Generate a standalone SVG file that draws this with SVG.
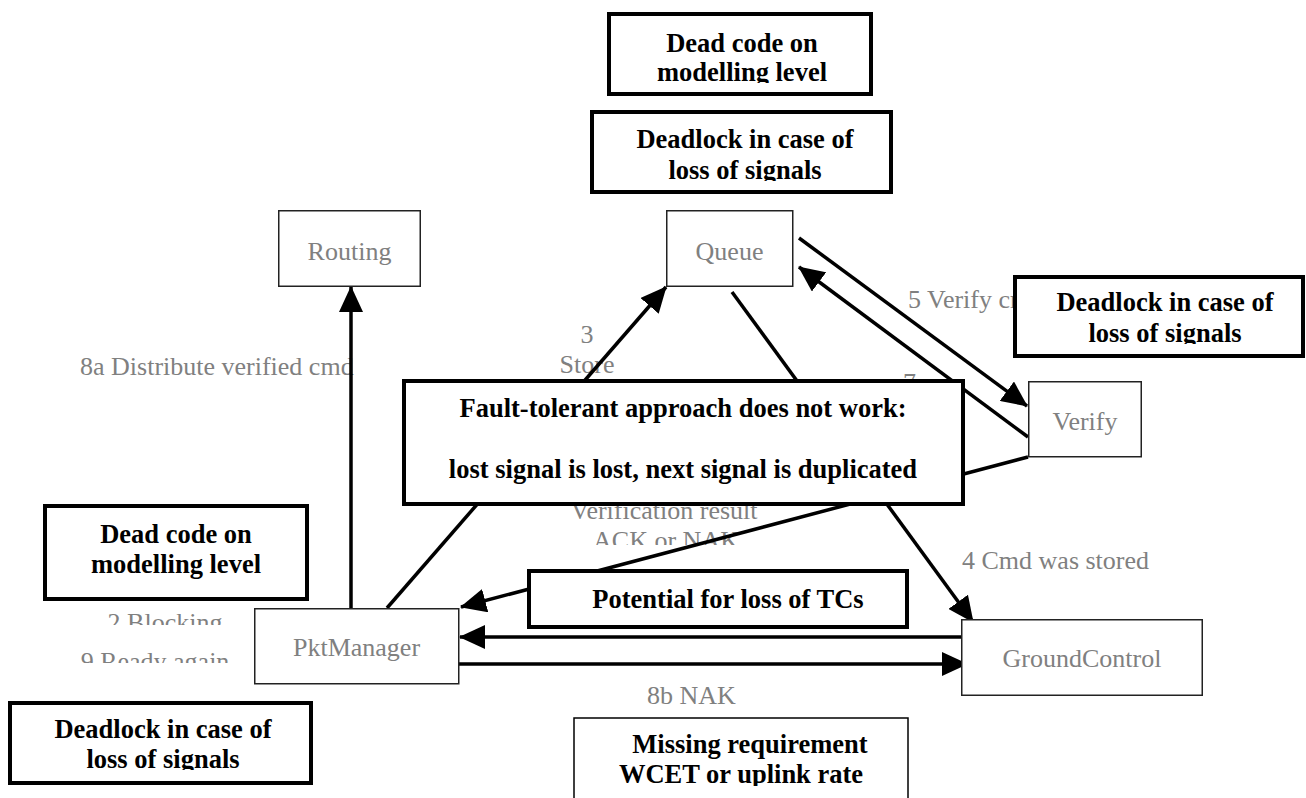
<svg xmlns="http://www.w3.org/2000/svg" width="1306" height="798" viewBox="0 0 1306 798">
<style>
.node{fill:#fff;stroke:#222;stroke-width:1.5}
.ntext{font-family:"Liberation Serif","Times New Roman",serif;font-size:26px;fill:#808080;text-anchor:middle}
.lbl{font-family:"Liberation Serif","Times New Roman",serif;font-size:26px;fill:#808080}
.note{fill:#fff;stroke:#000;stroke-width:4}
.thin{fill:#fff;stroke:#000;stroke-width:1.5}
.ntxt{font-family:"Liberation Serif","Times New Roman",serif;font-size:26.5px;font-weight:bold;fill:#000;text-anchor:middle}
.edge{fill:none;stroke:#000;stroke-width:3.5}
</style>
<defs>
<marker id="ah" markerUnits="userSpaceOnUse" markerWidth="26" markerHeight="24" refX="25" refY="12" orient="auto" viewBox="0 0 26 24">
<path d="M0,0 L26,12 L0,24 z" fill="#000"/>
</marker>
<clipPath id="c1"><rect x="0" y="0" width="1306" height="83"/></clipPath>
<clipPath id="c2"><rect x="0" y="0" width="1306" height="181"/></clipPath>
<clipPath id="c3"><rect x="0" y="0" width="1306" height="344"/></clipPath>
<clipPath id="c4"><rect x="0" y="0" width="1306" height="770"/></clipPath>
<clipPath id="c5"><rect x="0" y="0" width="1306" height="786"/></clipPath>
<clipPath id="c6"><rect x="0" y="0" width="1306" height="625"/></clipPath>
<clipPath id="c7"><rect x="0" y="0" width="1306" height="663"/></clipPath>
<clipPath id="c8"><rect x="0" y="0" width="1306" height="545"/></clipPath>
</defs>
<rect width="1306" height="798" fill="#fff"/>

<g id="labels">
<text class="lbl" x="80" y="375">8a Distribute verified cmd</text>
<text class="lbl" x="587" y="343" text-anchor="middle">3</text>
<text class="lbl" x="587" y="373" text-anchor="middle">Store</text>
<text class="lbl" x="908" y="308">5 Verify cmd</text>
<text class="lbl" x="903" y="391">7</text>
<text class="lbl" x="664" y="519" text-anchor="middle">Verification result</text>
<text class="lbl" x="666" y="549" text-anchor="middle" clip-path="url(#c8)">ACK or NAK</text>
<text class="lbl" x="962" y="569">4 Cmd was stored</text>
<text class="lbl" x="647" y="704">8b NAK</text>
<text class="lbl" x="165" y="631" text-anchor="middle" clip-path="url(#c6)">2 Blocking</text>
<text class="lbl" x="155" y="670" text-anchor="middle" clip-path="url(#c7)">9 Ready again</text>
</g>

<g id="connectors">
<line class="edge" x1="351" y1="608" x2="351" y2="287" marker-end="url(#ah)"/>
<line class="edge" x1="387" y1="608" x2="666" y2="287" marker-end="url(#ah)"/>
<line class="edge" x1="732" y1="292" x2="973" y2="622" marker-end="url(#ah)"/>
<line class="edge" x1="799" y1="238" x2="1027" y2="406" marker-end="url(#ah)"/>
<line class="edge" x1="1028" y1="437" x2="799" y2="267" marker-end="url(#ah)"/>
<line class="edge" x1="1028" y1="457" x2="461" y2="607" marker-end="url(#ah)"/>
<line class="edge" x1="968" y1="637" x2="460" y2="637" marker-end="url(#ah)"/>
<line class="edge" x1="459" y1="664" x2="967" y2="664" marker-end="url(#ah)"/>
</g>

<g id="routing"><rect class="node" x="278.75" y="210.75" width="141.5" height="75.5"/><text class="ntext" x="349.5" y="260">Routing</text></g>
<g id="queue"><rect class="node" x="666.75" y="210.75" width="126" height="75.5"/><text class="ntext" x="729.5" y="260">Queue</text></g>
<g id="verify"><rect class="node" x="1028.75" y="381.75" width="112.5" height="75"/><text class="ntext" x="1085" y="430">Verify</text></g>
<g id="pktmanager"><rect class="node" x="254.75" y="608.75" width="204" height="75"/><text class="ntext" x="356.5" y="656">PktManager</text></g>
<g id="groundcontrol"><rect class="node" x="961.75" y="619.75" width="240.5" height="75.5"/><text class="ntext" x="1082" y="667">GroundControl</text></g>

<g id="note-deadcode-top"><rect class="note" x="609" y="14" width="262" height="80"/>
<text class="ntxt" x="742" y="52">Dead code on</text>
<text class="ntxt" x="742" y="81" clip-path="url(#c1)">modelling level</text></g>

<g id="note-deadlock-top"><rect class="note" x="592" y="112" width="299" height="80"/>
<text class="ntxt" x="745" y="148">Deadlock in case of</text>
<text class="ntxt" x="745" y="179" clip-path="url(#c2)">loss of signals</text></g>

<g id="note-deadlock-right"><rect class="note" x="1015" y="277" width="288" height="79"/>
<text class="ntxt" x="1165" y="311">Deadlock in case of</text>
<text class="ntxt" x="1165" y="342" clip-path="url(#c3)">loss of signals</text></g>

<g id="note-fault"><rect class="note" x="404" y="381" width="559" height="123"/>
<text class="ntxt" x="683" y="417">Fault-tolerant approach does not work:</text>
<text class="ntxt" x="683" y="478">lost signal is lost, next signal is duplicated</text></g>

<g id="note-potential"><rect class="note" x="529" y="571" width="378" height="56"/>
<text class="ntxt" x="728" y="608">Potential for loss of TCs</text></g>

<g id="note-deadcode-left"><rect class="note" x="45" y="506" width="262" height="93"/>
<text class="ntxt" x="176" y="543">Dead code on</text>
<text class="ntxt" x="176" y="573">modelling level</text></g>

<g id="note-deadlock-left"><rect class="note" x="10" y="703" width="301" height="80"/>
<text class="ntxt" x="163" y="738">Deadlock in case of</text>
<text class="ntxt" x="163" y="768" clip-path="url(#c4)">loss of signals</text></g>

<g id="note-missing"><rect class="thin" x="574" y="718" width="334" height="100"/>
<text class="ntxt" x="750" y="753">Missing requirement</text>
<text class="ntxt" x="741" y="783" clip-path="url(#c5)">WCET or uplink rate</text></g>
</svg>
